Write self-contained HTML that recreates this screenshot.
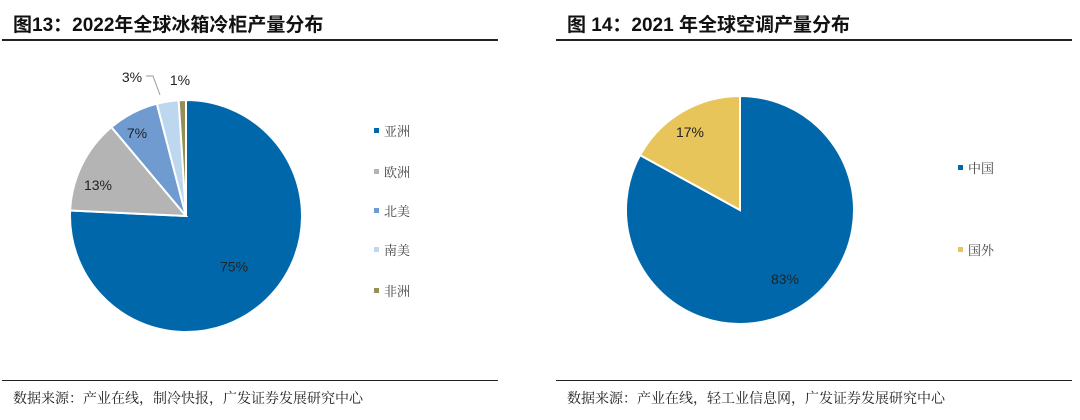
<!DOCTYPE html>
<html><head><meta charset="utf-8"><style>
body{margin:0;width:1080px;height:420px;background:#fff;overflow:hidden;font-family:"Liberation Sans","Noto Sans CJK SC",sans-serif;}
.t{position:absolute;font-size:19px;font-weight:bold;color:#111;}
.hr{position:absolute;height:2px;background:#222;}
.src{position:absolute;font-size:14px;color:#222;font-family:"Liberation Serif","Noto Serif CJK SC",serif;}
svg{position:absolute;left:0;top:0;}
</style></head><body>
<div class="t" style="left:13px;top:10px">图13：2022年全球冰箱冷柜产量分布</div>
<div class="hr" style="left:2px;top:39px;width:496px"></div>
<div class="t" style="left:567px;top:10px">图 14：2021 年全球空调产量分布</div>
<div class="hr" style="left:556px;top:39px;width:516px"></div>
<div class="hr" style="left:2px;top:380px;width:496px;height:1px"></div>
<div class="hr" style="left:556px;top:380px;width:516px;height:1px"></div>
<div class="src" style="left:13px;top:388px">数据来源：产业在线，制冷快报，广发证券发展研究中心</div>
<div class="src" style="left:567px;top:388px">数据来源：产业在线，轻工业信息网，广发证券发展研究中心</div>
<svg width="1080" height="420" id="chart"></svg>
<script>
const cats1=["亚洲","欧洲","北美","南美","非洲"];
const vals1=[75,13,7,3,1];
const cols1=["#0068AA","#B4B4B4","#6F9BD1","#BDD7EE","#9A8E57"];
const cats2=["中国","国外"];
const vals2=[83,17];
const cols2=["#0068AA","#E8C55A"];
const NS="http://www.w3.org/2000/svg";
const svg=document.getElementById('chart');
function mk(tag,attrs){const e=document.createElementNS(NS,tag);for(const k in attrs)e.setAttribute(k,attrs[k]);svg.appendChild(e);return e;}
function pt(cx,cy,r,a){return [cx+r*Math.sin(a),cy-r*Math.cos(a)];}
function pie(cx,cy,r,vals,cols,cats,prefix,labelPos,legX,legY){
  const tot=vals.reduce((a,b)=>a+b,0);let a0=0;
  vals.forEach((v,i)=>{
    const a1=a0+v/tot*2*Math.PI;
    const p0=pt(cx,cy,r,a0),p1=pt(cx,cy,r,a1);
    const large=(a1-a0)>Math.PI?1:0;
    const p=mk('path',{d:`M${cx},${cy}L${p0[0]},${p0[1]}A${r},${r} 0 ${large} 1 ${p1[0]},${p1[1]}Z`,fill:cols[i],stroke:'#fff','stroke-width':2});
    
    
    const mid=(a0+a1)/2;
    let lp;
    if(labelPos&&labelPos[i])lp=labelPos[i];else lp=pt(cx,cy,r*0.6,mid);
    const t=mk('text',{x:lp[0],y:lp[1]+5,'text-anchor':'middle','font-size':14,fill:'#222'});
    t.textContent=v+'%';
    
    
    a0=a1;
  });
  cats.forEach((c,i)=>{
    const y=legY[i];
    const s=mk('rect',{x:legX,y:y-3,width:5,height:5,fill:cols[i]});
    
    
    const t=mk('text',{x:legX+10,y:y+5,'font-size':13,fill:'#444','font-family':'"Liberation Serif","Noto Serif CJK SC",serif'});
    t.textContent=c;
    
    
  });
}
pie(186,216,116,vals1,cols1,cats1,'fridge',[null,[98,185],[137,133],[132,77],[180,80]],374,[131,172,211,250,291]);
const ld=mk('polyline',{points:'146,76 153,76 160,95',fill:'none',stroke:'#999','stroke-width':1});


pie(740,210,114,vals2,cols2,cats2,'ac',[[785,279],[690,132]],958,[168,250]);
</script>
</body></html>
